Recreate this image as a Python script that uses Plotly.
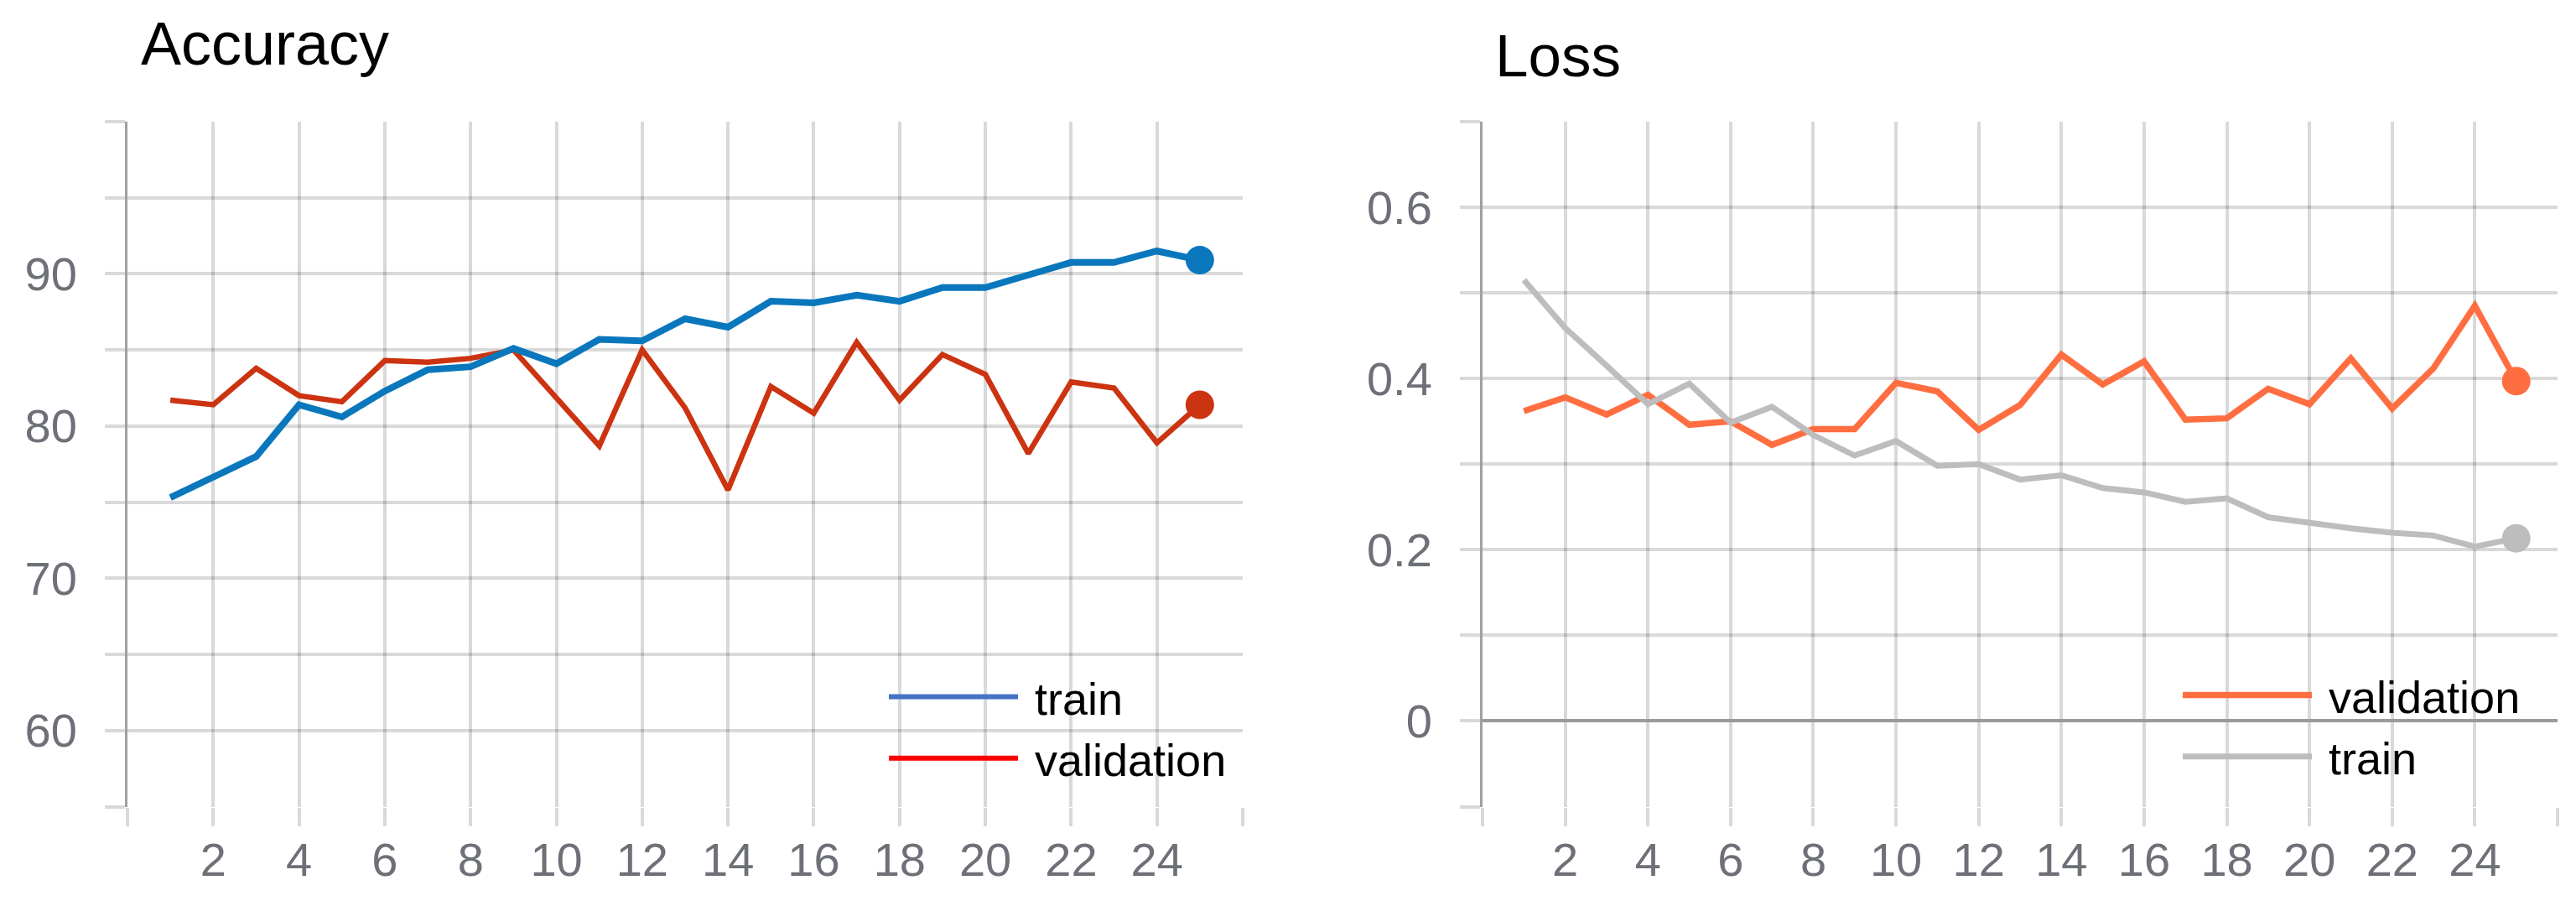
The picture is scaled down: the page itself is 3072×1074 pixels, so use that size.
import plotly.graph_objects as go

# ---------------- data ----------------
epochs = list(range(1, 26))
acc_train = [75.3, 76.7, 78.0, 81.4, 80.6, 82.3, 83.7, 83.9, 85.1, 84.1, 85.7, 85.6, 87.05,
             86.5, 88.2, 88.1, 88.6, 88.2, 89.1, 89.1, 89.9, 90.75, 90.75, 91.5, 90.9]
acc_val = [81.7, 81.4, 83.8, 82.0, 81.6, 84.3, 84.2, 84.45, 85.0, 81.9, 78.7, 85.0, 81.2,
           75.8, 82.6, 80.85, 85.5, 81.7, 84.7, 83.4, 78.2, 82.9, 82.5, 78.9, 81.4]
loss_val = [0.362, 0.378, 0.358, 0.381, 0.346, 0.350, 0.3225, 0.341, 0.341, 0.395, 0.385, 0.340,
            0.369, 0.428, 0.393, 0.420, 0.352, 0.3535, 0.388, 0.370, 0.4235, 0.365, 0.412, 0.485, 0.397]
loss_train = [0.515, 0.459, 0.415, 0.370, 0.394, 0.3485, 0.367, 0.334, 0.310, 0.327, 0.298, 0.300,
              0.282, 0.287, 0.272, 0.267, 0.256, 0.260, 0.238, 0.231, 0.225, 0.220, 0.2166, 0.2036, 0.2134]

x_tick_vals = list(range(0, 27, 2))
x_tick_text = ["", "2", "4", "6", "8", "10", "12", "14", "16", "18", "20", "22", "24", ""]
acc_tick_vals = [55, 60, 65, 70, 75, 80, 85, 90, 95, 100]
acc_tick_text = ["", "60", "", "70", "", "80", "", "90", "", ""]
loss_tick_vals = [-0.1, 0, 0.1, 0.2, 0.3, 0.4, 0.5, 0.6, 0.7]
loss_tick_text = ["", "0", "", "0.2", "", "0.4", "", "0.6", ""]

# ---------------- style ----------------
W, H = 3072, 1074
FONT = "Liberation Sans, Arial, sans-serif"
GRID = "rgba(0,0,0,0.15)"
TICKFONT = dict(family=FONT, size=56, color="#6E7078")
C_TRAIN = "#0A77BD"
C_VAL = "#CC3311"
C_LVAL = "#FF6E40"
C_LTRAIN = "#BDBDBD"
NB = "\u00a0"

fig = go.Figure()

# Accuracy panel
fig.add_trace(go.Scatter(x=epochs, y=acc_val, mode="lines", line=dict(color=C_VAL, width=6.5),
                         xaxis="x", yaxis="y", showlegend=False))
fig.add_trace(go.Scatter(x=epochs, y=acc_train, mode="lines", line=dict(color=C_TRAIN, width=8),
                         xaxis="x", yaxis="y", showlegend=False))
fig.add_trace(go.Scatter(x=epochs[-1:], y=acc_train[-1:], mode="markers",
                         marker=dict(color=C_TRAIN, size=34), xaxis="x", yaxis="y", showlegend=False))
fig.add_trace(go.Scatter(x=epochs[-1:], y=acc_val[-1:], mode="markers",
                         marker=dict(color=C_VAL, size=34), xaxis="x", yaxis="y", showlegend=False))
# legend entries (legend keys use different colours than the lines)
fig.add_trace(go.Scatter(x=[None], y=[None], mode="lines", name=NB + "train",
                         line=dict(color="#4472C4", width=6), xaxis="x", yaxis="y", legend="legend"))
fig.add_trace(go.Scatter(x=[None], y=[None], mode="lines", name=NB + "validation",
                         line=dict(color="#FF0000", width=6), xaxis="x", yaxis="y", legend="legend"))

# Loss panel
fig.add_trace(go.Scatter(x=epochs, y=loss_val, mode="lines", name=NB + "validation",
                         line=dict(color=C_LVAL, width=7.5), xaxis="x2", yaxis="y2", legend="legend2"))
fig.add_trace(go.Scatter(x=epochs, y=loss_train, mode="lines", name=NB + "train",
                         line=dict(color=C_LTRAIN, width=7), xaxis="x2", yaxis="y2", legend="legend2"))
fig.add_trace(go.Scatter(x=epochs[-1:], y=loss_val[-1:], mode="markers",
                         marker=dict(color=C_LVAL, size=34), xaxis="x2", yaxis="y2", showlegend=False))
fig.add_trace(go.Scatter(x=epochs[-1:], y=loss_train[-1:], mode="markers",
                         marker=dict(color=C_LTRAIN, size=34), xaxis="x2", yaxis="y2", showlegend=False))

ydom = [1 - 953.5 / H, 1 - 137 / H]

def xax(domain, anchor):
    return dict(domain=domain, anchor=anchor, range=[0, 26], tickmode="array",
                tickvals=x_tick_vals, ticktext=x_tick_text, showgrid=True, gridcolor=GRID,
                gridwidth=4, ticks="outside", ticklen=22, tickwidth=4, tickcolor=GRID,
                showline=False, zeroline=False, tickfont=TICKFONT, ticklabelstandoff=-8)

def yax(domain, anchor, rng, tv, tt, zl):
    return dict(domain=domain, anchor=anchor, range=rng, tickmode="array", tickvals=tv,
                ticktext=tt, showgrid=True, gridcolor=GRID, gridwidth=4, ticks="outside",
                ticklen=24, tickwidth=4, tickcolor=GRID, showline=True, linecolor="#A0A0A0",
                linewidth=3, zeroline=zl, zerolinecolor="#9A9A9A", zerolinewidth=4,
                tickfont=TICKFONT, ticklabelstandoff=22)

legend_common = dict(xanchor="left", yanchor="top", bgcolor="rgba(0,0,0,0)",
                     font=dict(family=FONT, size=54, color="black"), itemwidth=154,
                     tracegroupgap=0)

fig.update_layout(
    width=W, height=H, autosize=False,
    margin=dict(l=0, r=0, t=0, b=0),
    paper_bgcolor="white", plot_bgcolor="white",
    xaxis=xax([144 / W, 1474 / W], "y"),
    yaxis=yax(ydom, "x", [55, 100], acc_tick_vals, acc_tick_text, False),
    xaxis2=xax([1760 / W, 3042 / W], "y2"),
    yaxis2=yax(ydom, "x2", [-0.1, 0.7], loss_tick_vals, loss_tick_text, True),
    legend=dict(x=1047 / W, y=1 - 781 / H, **legend_common),
    legend2=dict(x=2590 / W, y=1 - 779 / H, **legend_common),
    annotations=[
        dict(text="Accuracy", xref="paper", yref="paper", x=158 / W, y=1 - 2 / H,
             xanchor="left", yanchor="top", showarrow=False,
             font=dict(family=FONT, size=72, color="black")),
        dict(text="Loss", xref="paper", yref="paper", x=1773 / W, y=1 - 17 / H,
             xanchor="left", yanchor="top", showarrow=False,
             font=dict(family=FONT, size=71, color="black")),
    ],
)

fig.write_html("out.html")
